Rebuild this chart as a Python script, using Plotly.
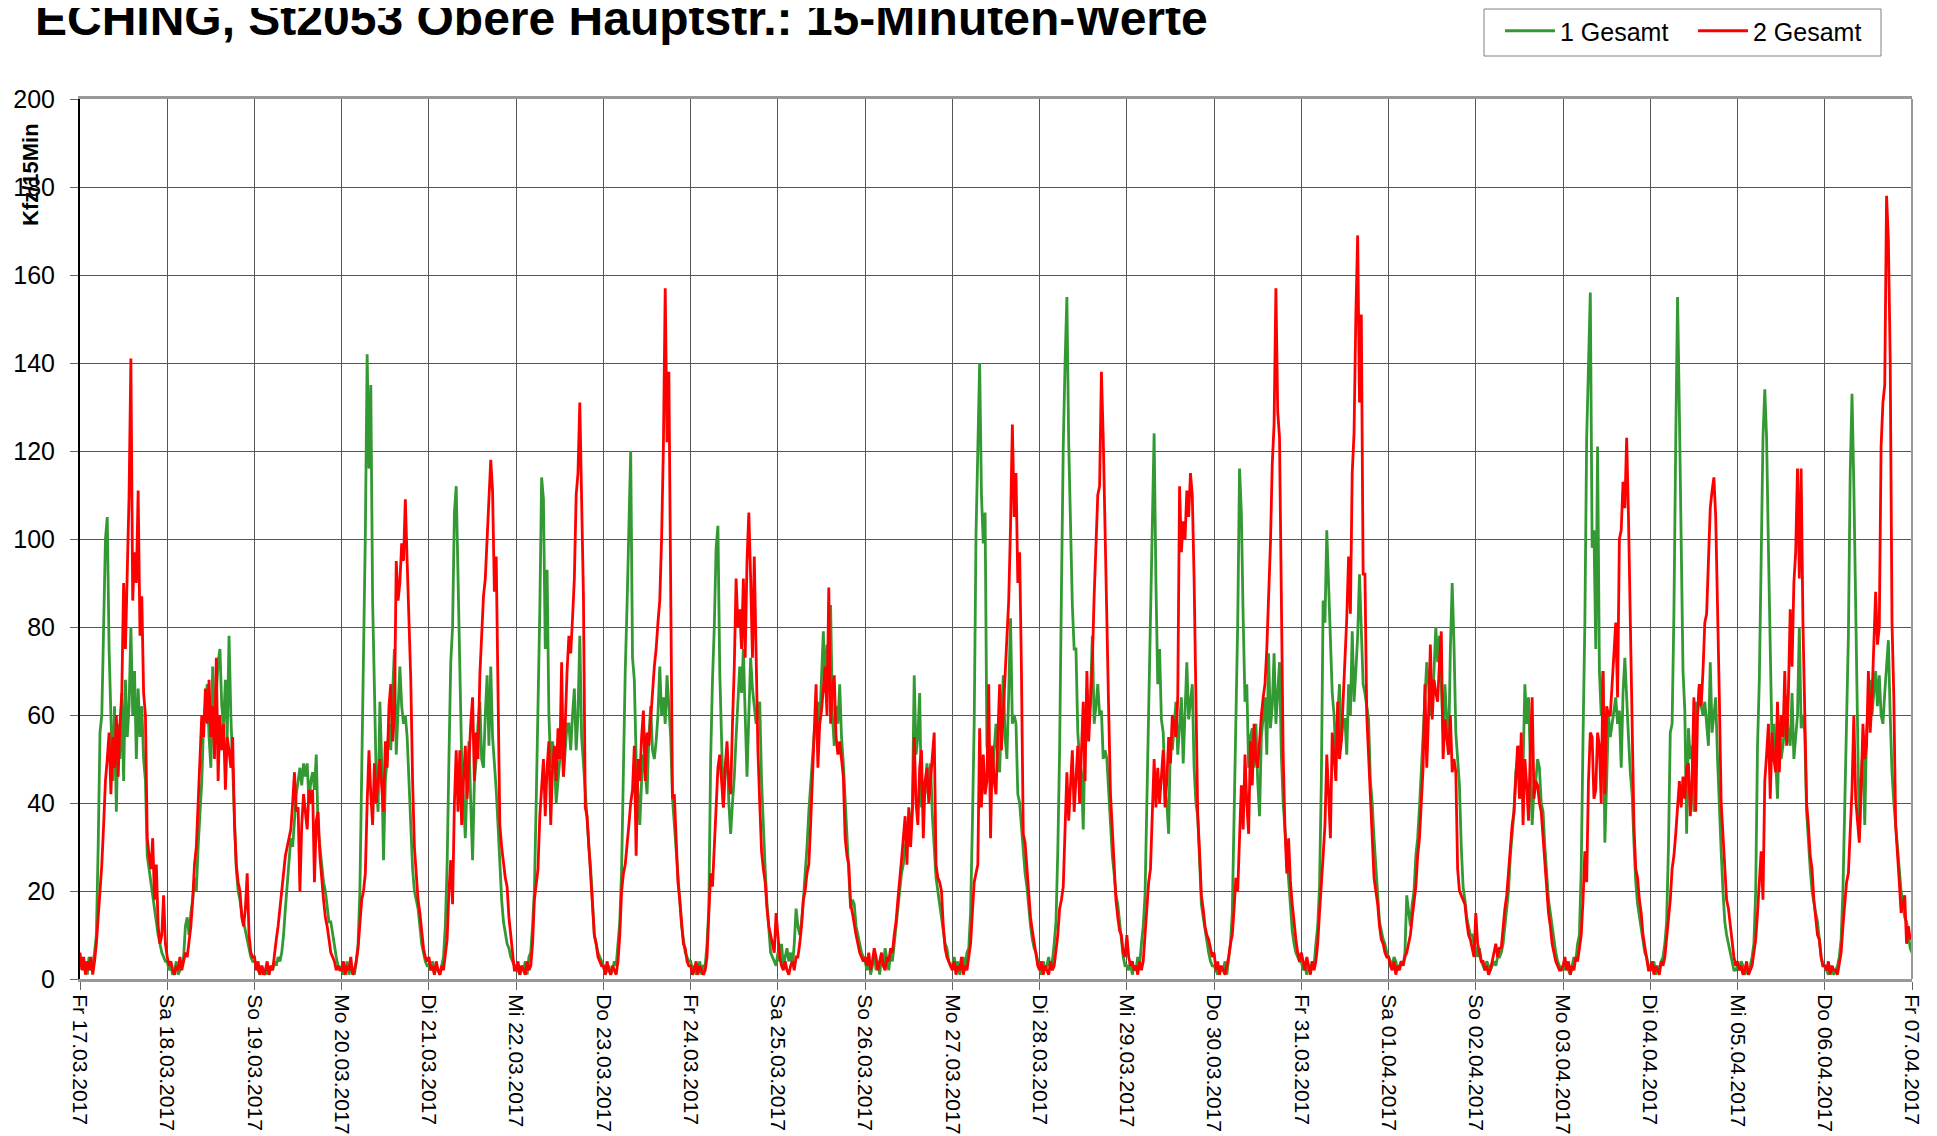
import plotly.graph_objects as go
import pandas as pd

# ---- tick labels (one per day, midnight) ----
day_labels = ["Fr 17.03.2017", "Sa 18.03.2017", "So 19.03.2017", "Mo 20.03.2017",
              "Di 21.03.2017", "Mi 22.03.2017", "Do 23.03.2017", "Fr 24.03.2017",
              "Sa 25.03.2017", "So 26.03.2017", "Mo 27.03.2017", "Di 28.03.2017",
              "Mi 29.03.2017", "Do 30.03.2017", "Fr 31.03.2017", "Sa 01.04.2017",
              "So 02.04.2017", "Mo 03.04.2017", "Di 04.04.2017", "Mi 05.04.2017",
              "Do 06.04.2017", "Fr 07.04.2017"]
day_dates = ["2017-03-17", "2017-03-18", "2017-03-19", "2017-03-20", "2017-03-21",
             "2017-03-22", "2017-03-23", "2017-03-24", "2017-03-25", "2017-03-26",
             "2017-03-27", "2017-03-28", "2017-03-29", "2017-03-30", "2017-03-31",
             "2017-04-01", "2017-04-02", "2017-04-03", "2017-04-04", "2017-04-05",
             "2017-04-06", "2017-04-07"]

# ---- "1 Gesamt" (green), half-hourly values, per day ----
g17 = [3,5,2,4,1,5,2,3, 6,10,30,56,60,80,100,105, 75,60,45,62,38,58,50,65, 45,68,55,62,80,60,70,50, 66,55,62,50,45,28,25,22, 18,15,13,10,8,6,5,4]
g18 = [4,2,3,1,2,4,1,2, 3,5,12,14,10,15,18,23, 20,30,37,45,58,62,67,55, 48,71,60,65,72,75,62,58, 68,55,78,60,48,35,25,20, 18,15,13,11,9,7,5,4]
g19 = [4,3,2,1,3,2,1,2, 1,3,2,4,3,5,4,6, 10,16,22,28,32,30,37,42, 45,48,44,49,46,49,40,45, 47,43,51,34,30,25,22,20, 16,13,13,10,7,5,3,2]
g20 = [3,1,2,4,1,3,2,1, 4,8,20,45,73,101,142,116, 135,86,66,45,38,63,49,27, 45,50,58,52,65,75,51,60, 71,62,58,60,55,45,34,25, 20,18,16,12,8,6,4,3]
g21 = [3,2,4,1,3,2,1,3, 5,12,26,50,72,80,106,112, 90,70,50,41,32,45,54,40, 27,45,50,58,63,50,48,60, 69,53,71,55,50,43,35,25, 18,13,10,8,7,5,4,3]
g22 = [3,2,1,3,2,4,1,5, 6,12,20,40,60,84,114,109, 75,93,60,48,54,50,40,45, 50,55,46,52,58,58,52,60, 66,52,60,78,55,49,42,37, 30,25,18,10,8,6,5,4]
g23 = [3,1,2,3,1,2,4,3, 8,13,25,50,70,85,101,120, 73,68,50,42,35,45,51,47, 42,55,62,52,50,54,60,71, 60,64,58,69,62,55,41,35, 28,23,18,12,9,6,5,4]
g24 = [4,2,3,1,2,4,1,3, 3,8,16,50,68,80,98,103, 70,56,39,48,52,40,33,40, 46,55,63,71,65,75,60,46, 60,73,66,62,58,60,63,45, 33,25,17,12,6,5,4,3]
g25 = [6,4,8,3,5,7,4,6, 3,8,16,12,10,13,18,23, 30,38,45,50,56,60,63,58, 70,79,65,76,68,85,60,53, 62,58,67,55,49,40,32,25, 16,18,17,12,10,8,6,5]
g26 = [4,2,5,1,3,6,2,4, 1,5,3,7,4,2,6,4, 8,13,16,20,24,26,30,32, 34,36,39,69,51,55,65,39, 45,42,49,44,49,37,30,23, 20,17,14,10,8,7,4,3]
g27 = [3,5,2,4,1,3,5,2, 6,7,15,35,58,101,125,140, 110,99,106,53,50,47,45,52, 58,50,47,60,69,55,50,65, 82,58,60,58,42,40,35,28, 24,21,16,12,9,7,6,4]
g28 = [3,1,4,2,3,5,2,4, 8,13,29,52,88,121,140,155, 122,99,85,75,75,56,50,47, 34,55,66,58,64,78,58,62, 67,60,61,50,52,50,42,37, 28,24,19,17,12,9,5,3]
g29 = [3,2,4,1,3,2,5,3, 8,12,19,40,60,85,110,124, 90,67,75,59,56,43,40,33, 55,52,57,63,51,58,64,49, 60,72,59,64,67,48,40,37, 25,17,14,11,9,6,4,3]
g30 = [3,2,1,3,2,2,4,1, 5,8,15,35,60,81,116,106, 82,63,67,48,55,57,48,58, 45,37,55,59,64,51,74,57, 62,74,58,65,72,51,40,34, 28,23,17,11,8,6,5,4]
g31 = [4,2,3,1,3,2,4,3, 8,12,21,45,86,81,102,90, 81,65,60,51,60,67,54,59, 59,51,67,60,79,63,70,78, 92,80,67,65,62,59,45,40, 32,25,18,13,11,9,8,6]
g01 = [5,4,3,5,4,2,3,4, 3,6,19,15,12,17,20,28, 32,39,48,57,65,72,67,60, 63,70,80,72,78,65,56,67, 60,51,75,90,76,56,50,44, 30,21,18,14,12,10,10,8]
g02 = [7,5,7,4,3,2,4,3, 2,3,4,3,5,5,6,8, 12,15,20,28,33,38,47,50, 53,41,48,67,58,64,50,35, 43,45,50,48,40,38,30,23, 18,15,12,8,6,4,3,2]
g03 = [3,2,4,2,1,3,5,4, 8,10,25,55,81,123,140,156, 98,102,75,121,70,60,70,31, 45,60,55,58,62,64,58,61, 48,65,73,62,55,47,42,31, 22,17,14,11,8,6,5,3]
g04 = [3,2,4,1,3,2,4,5, 8,13,30,56,58,83,122,155, 129,96,70,61,33,57,50,53, 38,63,60,67,62,60,63,58, 53,72,56,60,64,50,38,29, 20,13,10,8,6,4,2,2]
g05 = [3,2,4,3,1,2,1,3, 5,8,20,53,68,95,123,134, 123,98,76,53,58,50,41,56, 50,53,58,62,55,53,65,50, 55,60,80,57,60,56,38,30, 25,20,17,15,13,8,5,3]
g06 = [3,2,1,3,2,1,2,3, 5,9,20,42,64,78,115,133, 112,82,61,32,45,53,35,56, 62,68,60,65,70,62,69,60, 58,65,70,77,60,47,40,35, 28,24,20,17,14,13,10,7]
g_end = [6]

# ---- "2 Gesamt" (red), half-hourly values, per day ----
r17 = [6,2,5,1,4,2,5,1, 4,8,14,20,26,35,45,50, 56,42,55,48,60,46,58,65, 90,75,94,110,141,86,97,90, 111,78,87,65,60,32,28,25, 32,18,26,12,8,10,19,8]
r18 = [5,3,4,2,1,3,2,5, 2,4,6,5,8,12,18,26, 30,40,48,60,55,66,58,68, 55,62,50,73,45,60,52,58, 43,55,52,48,55,35,26,22, 20,14,12,16,24,10,6,5]
r19 = [5,2,4,1,3,1,2,4, 1,3,2,6,9,12,16,20, 23,28,30,32,34,40,47,38, 39,20,35,42,38,34,43,40, 43,22,36,38,28,22,18,14, 12,9,6,5,4,2,3,2]
r20 = [2,4,1,3,2,5,1,2, 4,7,12,18,20,24,40,52, 42,35,49,40,45,50,44,38, 54,48,62,67,54,60,95,86, 90,99,95,109,95,80,68,45, 30,24,18,15,10,7,5,4]
r21 = [5,2,3,1,4,2,1,3, 2,6,9,20,27,17,40,52, 38,52,35,45,53,41,50,58, 64,45,56,50,69,80,87,91, 100,109,118,111,88,96,58,35, 30,26,23,21,14,10,5,2]
r22 = [2,4,1,3,2,1,4,2, 3,8,18,22,25,37,45,50, 37,48,54,35,48,53,45,57, 50,72,46,60,70,78,74,82, 91,110,115,131,112,87,39,37, 30,23,18,10,8,5,4,3]
r23 = [3,1,4,2,1,3,2,1, 4,10,20,24,26,30,35,40, 43,53,28,50,45,55,61,45, 56,53,60,65,71,75,81,86, 100,121,157,122,138,82,41,42, 30,22,18,12,8,7,4,3]
r24 = [3,1,2,4,1,3,2,1, 2,5,15,24,21,30,40,48, 51,45,39,48,54,45,42,58, 71,91,80,84,75,91,73,95, 106,91,73,96,72,52,40,29, 25,22,16,12,10,8,6,15]
r25 = [10,5,3,2,4,2,1,3, 4,2,5,5,8,12,18,20, 24,26,35,46,55,67,48,58, 61,66,71,60,89,58,66,69, 55,51,54,50,46,32,28,26, 17,15,12,10,8,6,5,4]
r26 = [5,3,6,2,4,7,5,2, 4,6,3,2,5,4,7,6, 10,13,18,22,27,32,37,26, 39,30,38,55,40,35,48,52, 32,45,48,40,45,50,56,26, 23,22,20,12,7,5,4,3]
r27 = [2,4,1,3,2,5,1,3, 2,5,8,15,22,24,26,57, 39,51,42,45,67,32,53,45, 42,55,67,52,60,70,78,86, 103,126,105,115,90,97,70,33, 31,25,18,14,11,8,5,3]
r28 = [2,4,1,3,2,1,4,2, 3,7,10,16,18,21,35,47, 36,45,52,38,45,53,40,52, 63,45,70,54,62,72,87,100, 110,112,138,123,99,83,61,42, 33,25,18,14,11,10,6,5]
r29 = [10,5,3,4,2,3,1,4, 2,4,10,17,22,25,40,50, 39,48,40,46,52,39,45,55, 49,60,58,55,64,112,97,104, 100,111,105,115,110,91,63,37, 29,19,16,12,10,9,7,5]
r30 = [6,2,4,1,3,2,1,3, 5,8,10,16,23,20,30,44, 34,51,40,33,54,44,58,50, 48,55,60,64,67,75,86,99, 117,126,157,129,123,86,51,34, 24,32,22,17,12,9,6,4]
r31 = [6,4,2,5,3,1,4,2, 4,8,15,23,28,35,51,42, 32,56,50,45,63,50,54,63, 70,82,96,83,115,124,151,169, 131,151,92,92,60,51,40,34, 23,20,17,12,9,8,6,5]
r01 = [5,3,2,4,1,3,2,4, 3,5,6,8,10,14,18,21, 28,32,40,48,67,48,60,76, 59,68,65,63,72,79,50,59, 55,51,60,47,50,47,25,20, 19,18,17,13,10,9,7,5]
r02 = [15,8,6,4,4,2,3,1, 2,4,6,8,5,7,7,12, 16,19,25,30,35,38,45,53, 41,56,35,50,44,36,52,64, 41,45,44,40,38,32,25,20, 15,12,8,6,4,3,2,2]
r03 = [3,5,2,4,1,3,2,5, 4,7,10,18,29,22,45,56, 55,41,43,56,53,40,70,42, 62,60,60,67,75,81,64,100, 102,113,107,123,105,81,64,35, 25,23,18,15,10,7,4,2]
r04 = [2,4,1,3,2,1,4,3, 5,9,14,18,25,28,33,38, 45,39,46,41,48,49,37,45, 64,38,60,67,62,70,81,83, 97,107,111,114,105,88,64,40, 33,25,18,16,12,8,5,3]
r05 = [4,2,3,1,2,4,1,2, 3,6,9,15,22,29,18,45, 51,58,41,56,50,47,63,47, 60,55,70,53,65,84,71,90, 97,116,91,116,81,58,40,35, 28,25,18,14,10,9,5,3]
r06 = [3,2,4,1,3,2,2,1, 4,6,12,18,22,24,35,43, 60,41,36,31,43,58,50,53, 70,56,64,75,88,76,80,121, 131,135,178,168,141,81,64,35, 27,22,15,17,19,8,12,9]
r_end = [10]

green = (g17 + g18 + g19 + g20 + g21 + g22 + g23 + g24 + g25 + g26 + g27 + g28 + g29 +
         g30 + g31 + g01 + g02 + g03 + g04 + g05 + g06 + g_end)
red = (r17 + r18 + r19 + r20 + r21 + r22 + r23 + r24 + r25 + r26 + r27 + r28 + r29 +
       r30 + r31 + r01 + r02 + r03 + r04 + r05 + r06 + r_end)

times = pd.date_range("2017-03-17 00:00", periods=len(green), freq="30min")

W, H = 1937, 1136
OFF = 8  # the page places the figure 8 px from the top-left corner
# plot area in page pixels: left 80, right 1912, top 99, bottom 979
L, T = 80 - OFF, 99 - OFF
R = W - (1912 - OFF)
B = H - (979 - OFF)
PW, PH = W - L - R, H - T - B
FONT = "Liberation Sans, Arial, sans-serif"

def px(xp):  # page x -> paper x
    return (xp - OFF - L) / PW

def py(yp):  # page y -> paper y
    return (H - B - (yp - OFF)) / PH

fig = go.Figure()
fig.add_trace(go.Scatter(x=times, y=green, mode="lines", name="1 Gesamt",
                         line=dict(color="#339933", width=2.8)))
fig.add_trace(go.Scatter(x=times, y=red, mode="lines", name="2 Gesamt",
                         line=dict(color="#ff0000", width=2.8)))

fig.update_layout(
    width=W, height=H,
    margin=dict(l=L, r=R, t=T, b=B, pad=0, autoexpand=False),
    paper_bgcolor="white", plot_bgcolor="white",
    font=dict(family=FONT, color="black"),
    title=dict(text="<b>ECHING, St2053 Obere Hauptstr.: 15-Minuten-Werte</b>",
               font=dict(family=FONT, size=48, color="black"),
               xref="container", x=27 / W, xanchor="left",
               yref="container", y=1 - 10 / H, yanchor="middle"),
    legend=dict(orientation="h", xref="container", yref="container",
                x=1492 / W, y=1.0, xanchor="left", yanchor="top",
                borderwidth=0, bgcolor="rgba(0,0,0,0)",
                font=dict(family=FONT, size=25, color="black"),
                itemwidth=50, entrywidth=128, traceorder="normal"),
    showlegend=True,
)

fig.update_xaxes(
    type="date", automargin=False,
    range=[day_dates[0], day_dates[-1]],
    tickmode="array", tickvals=day_dates, ticktext=day_labels,
    tickangle=90, tickfont=dict(family=FONT, size=21, color="black"),
    ticks="outside", ticklen=8, tickcolor="#666", tickwidth=1,
    ticklabelstandoff=0,
    showgrid=True, gridcolor="#555", gridwidth=1,
    showline=True, linecolor="#999", linewidth=3, mirror=True,
    zeroline=False,
)
fig.update_yaxes(
    automargin=False,
    range=[0, 200], tickmode="linear", tick0=0, dtick=20,
    tickfont=dict(family=FONT, size=25, color="black"),
    ticks="outside", ticklen=8, tickcolor="#666", tickwidth=1,
    ticklabelstandoff=10,
    showgrid=True, gridcolor="#555", gridwidth=1,
    showline=True, linecolor="black", linewidth=2,
    zeroline=False,
)

# right border
fig.add_shape(type="line", xref="paper", yref="paper", x0=1, x1=1, y0=0, y1=1,
              line=dict(color="#999", width=2))

# legend frame (page pixels 1484..1881 x 8..56)
fig.add_shape(type="rect", xref="paper", yref="paper",
              x0=px(1484), x1=px(1881), y0=py(56), y1=py(OFF + 1),
              line=dict(color="#808080", width=1), fillcolor="rgba(0,0,0,0)", layer="below")

# y-axis title (overlapping the 180 label, as in the original)
fig.add_annotation(text="<b>Kfz/15Min</b>", textangle=-90,
                   xref="paper", yref="paper",
                   x=px(31), y=py(175),
                   xanchor="center", yanchor="middle", showarrow=False,
                   font=dict(family=FONT, size=22, color="black"))

fig.write_html("out.html")
